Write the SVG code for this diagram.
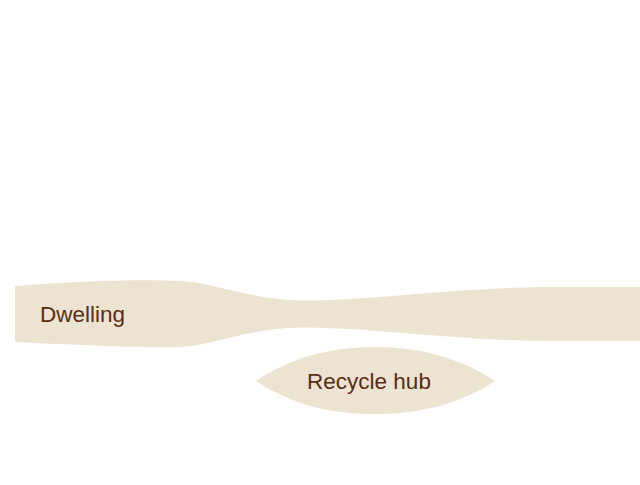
<svg xmlns="http://www.w3.org/2000/svg" width="640" height="485" viewBox="0 0 640 485">
<style>
.node{fill:#ece4d0;stroke:none}
.lbl{font-family:"Liberation Sans",Arial,sans-serif;font-size:22.5px;fill:#5a2d14}
</style>
<rect width="640" height="485" fill="#ffffff"/>
<g id="connectors"></g>
<g id="dwelling">
<path class="node" d="M15,286 C80,281 140,279 180,281 C215,283 250,299 300,300.5 C380,300.5 450,287 560,287 L640,287 L640,341 L560,341 C450,341 380,327.5 300,327.5 C250,328 215,345 180,347 C140,348 80,345 15,342 Z"/>
<text class="lbl" x="40" y="322">Dwelling</text>
</g>
<g id="recycle-hub">
<path class="node" d="M256,381 C290,358 330,347 375,347 C420,347 460,358 495,381 C460,404 420,414 375,414 C330,414 290,404 256,381 Z"/>
<text class="lbl" x="369" y="388.5" text-anchor="middle">Recycle hub</text>
</g>
</svg>
